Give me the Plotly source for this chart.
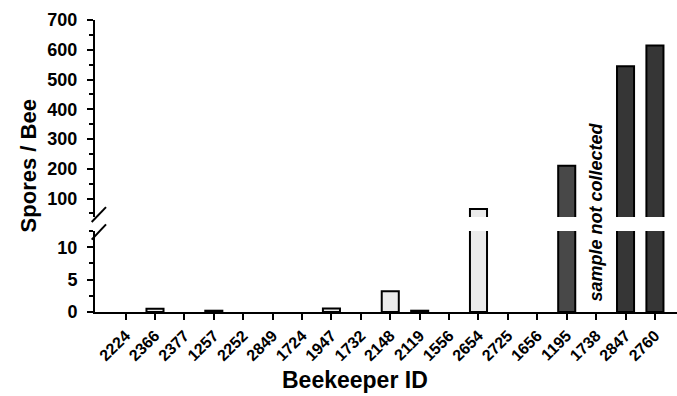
import plotly.graph_objects as go

beekeepers = ["2224", "2366", "2377", "1257", "2252", "2849", "1724", "1947", "1732",
              "2148", "2119", "1556", "2654", "2725", "1656", "1195", "1738", "2847", "2760"]
spores = [0, 0.5, 0, 0.2, 0, 0, 0, 0.55, 0, 3.2, 0.2, 0, 65, 0, 0, 210, None, 545, 614]
bar_colors = ["#ebebeb", "#ebebeb", "#ebebeb", "#333333", "#ebebeb", "#ebebeb", "#ebebeb",
              "#ebebeb", "#ebebeb", "#ebebeb", "#333333", "#ebebeb", "#ebebeb", "#ebebeb",
              "#ebebeb", "#484848", "#ebebeb", "#363636", "#363636"]
y_upper_ticks = [100, 200, 300, 400, 500, 600, 700]
y_lower_ticks = [0, 5, 10]
missing_label = "sample not collected"
missing_id = "1738"

FONT = "Arial, Liberation Sans, sans-serif"
W, H = 677, 396
ML, MR, MT, MB = 95, 0, 19.5, 84.3
PW, PH = W - ML - MR, H - MT - MB
up_bottom = (H - MB - 216.7) / PH
low_top = (H - MB - 230.7) / PH

line_widths = [2 if (v is not None and v > 0) else 0 for v in spores]
bar_style = dict(marker=dict(color=bar_colors, line=dict(color="black", width=line_widths)),
                 width=0.58, showlegend=False, hoverinfo="x+y")

fig = go.Figure()
fig.add_trace(go.Bar(x=beekeepers, y=spores, yaxis="y", **bar_style))
fig.add_trace(go.Bar(x=beekeepers, y=spores, yaxis="y2", **bar_style))

def bold(vals):
    return ["<b>%s</b>" % v for v in vals]

axis_common = dict(showline=True, linecolor="black", linewidth=2, ticks="outside",
                   ticklen=6, tickwidth=2, tickcolor="black", showgrid=False, zeroline=False,
                   tickfont=dict(family=FONT, size=18, color="black"))

fig.update_layout(
    width=W, height=H,
    margin=dict(l=ML, r=MR, t=MT, b=MB),
    plot_bgcolor="white", paper_bgcolor="white",
    xaxis=dict(type="category", range=[-1.04, 18.75], showline=True, linecolor="black",
               linewidth=2, ticks="outside", ticklen=6, tickwidth=2, tickcolor="black",
               showgrid=False, tickangle=-45, anchor="y",
               tickmode="array", tickvals=beekeepers, ticktext=bold(beekeepers),
               tickfont=dict(family=FONT, size=16, color="black")),
    yaxis=dict(domain=[0, low_top], range=[0, 12.5], tickmode="array",
               tickvals=y_lower_ticks, ticktext=bold(y_lower_ticks),
               minor=dict(dtick=2.5, ticks="outside", ticklen=4, tickwidth=2, tickcolor="black",
                          showgrid=False),
               ticklabelstandoff=6, **axis_common),
    yaxis2=dict(domain=[up_bottom, 1], range=[38, 700], tickmode="array",
                tickvals=y_upper_ticks, ticktext=bold(y_upper_ticks), anchor="x",
                minor=dict(dtick=50, ticks="outside", ticklen=4, tickwidth=2, tickcolor="black",
                           showgrid=False),
                ticklabelstandoff=6, **axis_common),
)

def px2paper_x(px):
    return (px - ML) / PW

def px2paper_y(py):
    return (H - MB - py) / PH

for (x0, y0, x1, y1) in [(91.7, 221.7, 106, 206.7), (91.7, 239.3, 106, 224)]:
    fig.add_shape(type="line", xref="paper", yref="paper",
                  x0=px2paper_x(x0), y0=px2paper_y(y0), x1=px2paper_x(x1), y1=px2paper_y(y1),
                  line=dict(color="black", width=2))

fig.add_annotation(text="<b><i>%s</i></b>" % missing_label, x=beekeepers.index(missing_id),
                   xref="x", y=px2paper_y(212), yref="paper", textangle=-90, showarrow=False,
                   xanchor="center", yanchor="middle",
                   font=dict(family=FONT, size=18, color="black"))

fig.add_annotation(text="<b>Spores / Bee</b>", x=px2paper_x(28), y=px2paper_y(166),
                   xref="paper", yref="paper", textangle=-90, showarrow=False,
                   xanchor="center", yanchor="middle",
                   font=dict(family=FONT, size=22, color="black"))

fig.add_annotation(text="<b>Beekeeper ID</b>", x=px2paper_x(355), y=px2paper_y(380),
                   xref="paper", yref="paper", showarrow=False,
                   xanchor="center", yanchor="middle",
                   font=dict(family=FONT, size=23, color="black"))

fig.write_html("out.html")
